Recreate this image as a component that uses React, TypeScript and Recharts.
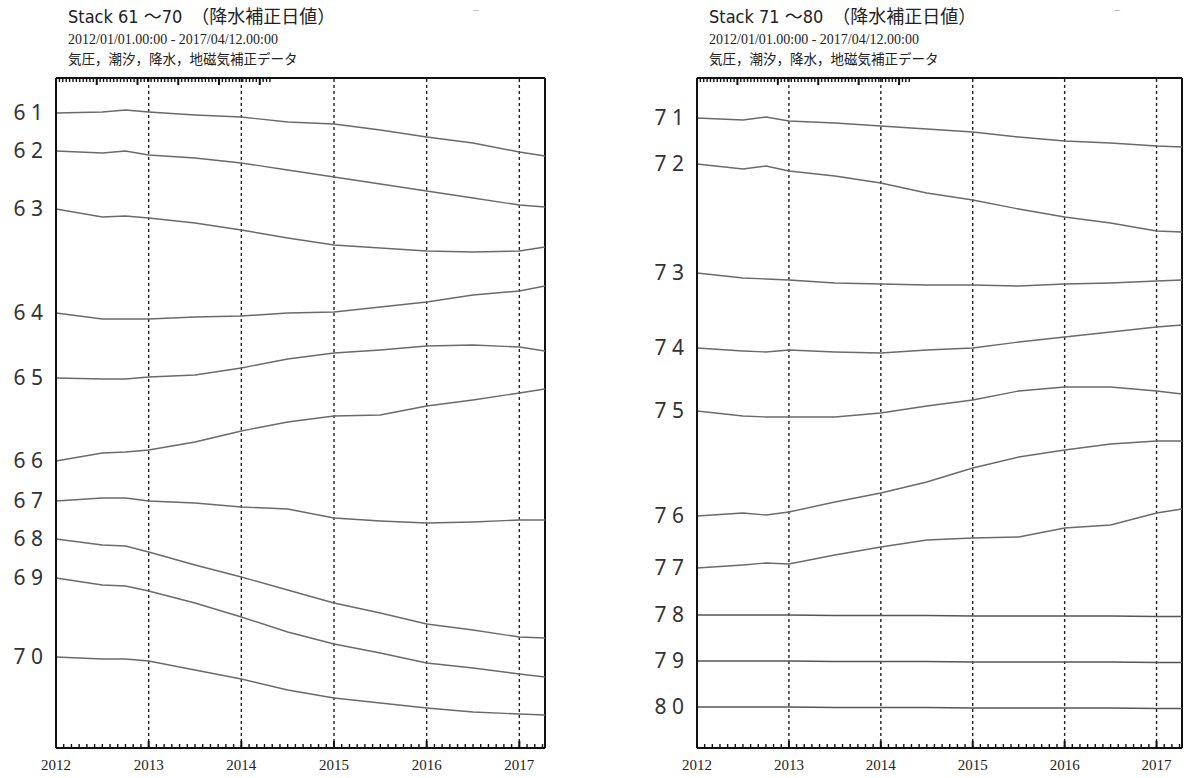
import React from "react";
import { LineChart, Line, XAxis, YAxis, ReferenceLine } from "recharts";

// time axis: years since 2012/01/01, last sample 2017/04/12
const years = [2012, 2013, 2014, 2015, 2016, 2017];
const endYear = 5.277;
const t = [0, 0.5, 0.75, 1, 1.5, 2, 2.5, 3, 3.5, 4, 4.5, 5, 5.277];

// stacked offsets (arbitrary units, 0 = bottom frame)
const s61 = [635, 636, 638, 636, 633, 631, 626, 624, 618, 611, 605, 596, 592];
const s62 = [597, 595, 597, 593, 590, 585, 578, 571, 564, 557, 550, 543, 541];
const s63 = [539, 531, 532, 530, 525, 518, 510, 503, 500, 497, 496, 497, 501];
const s64 = [435, 429, 429, 429, 431, 432, 435, 436, 441, 446, 453, 457, 462];
const s65 = [370, 369, 369, 371, 373, 380, 389, 395, 398, 402, 403, 401, 397];
const s66 = [287, 295, 296, 298, 306, 317, 326, 332, 333, 342, 348, 355, 359];
const s67 = [247, 250, 250, 247, 245, 241, 239, 230, 227, 225, 226, 228, 228];
const s68 = [209, 203, 202, 196, 183, 171, 158, 145, 135, 124, 118, 111, 110];
const s69 = [170, 163, 162, 157, 145, 131, 116, 104, 95, 85, 80, 74, 71];
const s70 = [91, 89, 89, 87, 78, 69, 58, 50, 45, 40, 36, 34, 33];

const s71 = [630, 628, 631, 627, 625, 622, 619, 616, 611, 607, 605, 602, 601];
const s72 = [584, 579, 582, 577, 572, 565, 555, 548, 539, 531, 525, 517, 516];
const s73 = [475, 470, 469, 468, 465, 464, 463, 463, 462, 464, 465, 467, 468];
const s74 = [400, 397, 396, 398, 396, 395, 398, 400, 406, 411, 416, 421, 423];
const s75 = [337, 332, 331, 331, 331, 335, 342, 348, 357, 361, 361, 357, 354];
const s76 = [232, 235, 233, 236, 246, 255, 266, 280, 291, 298, 304, 307, 307];
const s77 = [180, 183, 185, 184, 193, 201, 208, 210, 211, 220, 223, 235, 239];
const s78 = [133, 133, 133, 133, 132.5, 132.5, 132.5, 132, 132, 132, 132, 131.5, 131.5];
const s79 = [87, 87, 87, 87, 86.5, 86.5, 86.5, 86, 86, 86, 86, 85.5, 85.5];
const s80 = [41, 41, 41, 41, 40.5, 40.5, 40.5, 40, 40, 40, 40, 39.5, 39.5];

const leftIds = [61, 62, 63, 64, 65, 66, 67, 68, 69, 70];
const leftSeries = [s61, s62, s63, s64, s65, s66, s67, s68, s69, s70];
const rightIds = [71, 72, 73, 74, 75, 76, 77, 78, 79, 80];
const rightSeries = [s71, s72, s73, s74, s75, s76, s77, s78, s79, s80];

const monthTicks: number[] = [];
for (let m = 0; m <= 63; m++) monthTicks.push(m / 12);

const CJK = "'Noto Sans CJK JP', 'Noto Sans', sans-serif";

const BottomTick = (props: any) => {
  const { x, y, payload } = props;
  const v = payload.value;
  const isYear = Math.abs(v - Math.round(v)) < 1e-6;
  return (
    <g>
      <line x1={x} x2={x} y1={y} y2={y - (isYear ? 7 : 4)} stroke="#111" strokeWidth={isYear ? 2 : 1.4} />
      {isYear && (
        <text x={x} y={y + 22} textAnchor="middle" fontFamily="'Liberation Serif', serif" fontSize={15} fill="#222">
          {years[Math.round(v)]}
        </text>
      )}
    </g>
  );
};

const TopTick = (props: any) => {
  const { x, y, payload } = props;
  const v = payload.value;
  const isYear = Math.abs(v - Math.round(v)) < 1e-6;
  return <line x1={x} x2={x} y1={y} y2={y + (isYear ? 7 : 4)} stroke="#111" strokeWidth={isYear ? 2 : 1.4} />;
};

function Panel(props: {
  left: number;
  width: number;
  yWidth: number;
  marginRight: number;
  title: string;
  ids: number[];
  series: number[][];
}) {
  const { left, width, yWidth, marginRight, title, ids, series } = props;
  const data = t.map((x, i) => {
    const row: any = { t: x };
    ids.forEach((id, k) => (row["s" + id] = series[k][i]));
    return row;
  });
  const labelMap = new Map<number, string>();
  ids.forEach((id, k) => labelMap.set(series[k][0], String(id).split("").join(" ")));
  const yTicks = series.map((s) => s[0]);

  const YTick = (p: any) => (
    <text x={p.x - 13} y={p.y} dy={7} textAnchor="end" fontFamily="'Noto Sans', 'Open Sans', sans-serif" fontSize={21} fill="#333">
      {labelMap.get(p.payload.value) ?? ""}
    </text>
  );

  const tx = left + yWidth + 12;
  return (
    <>
      <div style={{ position: "absolute", left: tx, top: 6, fontFamily: "'Liberation Sans Narrow', 'DejaVu Sans Condensed', " + CJK, fontSize: 18, lineHeight: "22px", color: "#222", whiteSpace: "pre" }}>
        {title}
      </div>
      <div style={{ position: "absolute", left: left + yWidth + 417, top: 2, fontSize: 12, lineHeight: "14px", color: "#aaa" }}>–</div>
      <div style={{ position: "absolute", left: tx, top: 33, fontFamily: "'Liberation Serif', serif", fontSize: 14, lineHeight: "14px", color: "#222", whiteSpace: "pre" }}>
        2012/01/01.00:00 - 2017/04/12.00:00
      </div>
      <div style={{ position: "absolute", left: tx, top: 51, fontFamily: CJK, fontSize: 13.5, lineHeight: "14px", color: "#222", whiteSpace: "pre" }}>
        気圧，潮汐，降水，地磁気補正データ
      </div>
      <div style={{ position: "absolute", left, top: 0 }}>
        <LineChart width={width} height={778} data={data} margin={{ top: 77, right: marginRight, bottom: 0, left: 0 }}>
          <XAxis
            dataKey="t"
            type="number"
            domain={[0, endYear]}
            allowDataOverflow
            ticks={monthTicks}
            interval={0}
            height={30}
            tickSize={0}
            tickMargin={0}
            tickLine={false}
            tick={BottomTick}
            axisLine={{ stroke: "#111", strokeWidth: 2 }}
          />
          <XAxis
            xAxisId="top"
            orientation="top"
            type="number"
            domain={[0, endYear]}
            allowDataOverflow
            ticks={monthTicks}
            interval={0}
            height={1}
            tickSize={0}
            tickMargin={0}
            tickLine={false}
            tick={TopTick}
            axisLine={{ stroke: "#111", strokeWidth: 2 }}
          />
          <YAxis
            type="number"
            domain={[0, 670]}
            allowDataOverflow
            ticks={yTicks}
            interval={0}
            width={yWidth}
            tickSize={0}
            tickMargin={0}
            tickLine={false}
            tick={YTick}
            axisLine={{ stroke: "#111", strokeWidth: 2 }}
          />
          {[1, 2, 3, 4, 5].map((k) => (
            <ReferenceLine key={k} x={k} stroke="#222" strokeWidth={1.4} strokeDasharray="3 3" />
          ))}
          <ReferenceLine x={endYear} stroke="#111" strokeWidth={2} />
          {ids.map((id) => (
            <Line
              key={id}
              type="linear"
              dataKey={"s" + id}
              stroke={id >= 78 ? "#555" : "#6a6a6a"}
              strokeWidth={1.4}
              dot={false}
              activeDot={false}
              isAnimationActive={false}
            />
          ))}
        </LineChart>
      </div>
    </>
  );
}

export default function App() {
  return (
    <div style={{ position: "absolute", left: 0, top: 0, width: 1192, height: 778, background: "#fff", overflow: "hidden" }}>
      <Panel left={0} width={560} yWidth={56} marginRight={15} title={"Stack 61 ～70　（降水補正日値）"} ids={leftIds} series={leftSeries} />
      <Panel left={640} width={552} yWidth={57} marginRight={10} title={"Stack 71 ～80　（降水補正日値）"} ids={rightIds} series={rightSeries} />
    </div>
  );
}
